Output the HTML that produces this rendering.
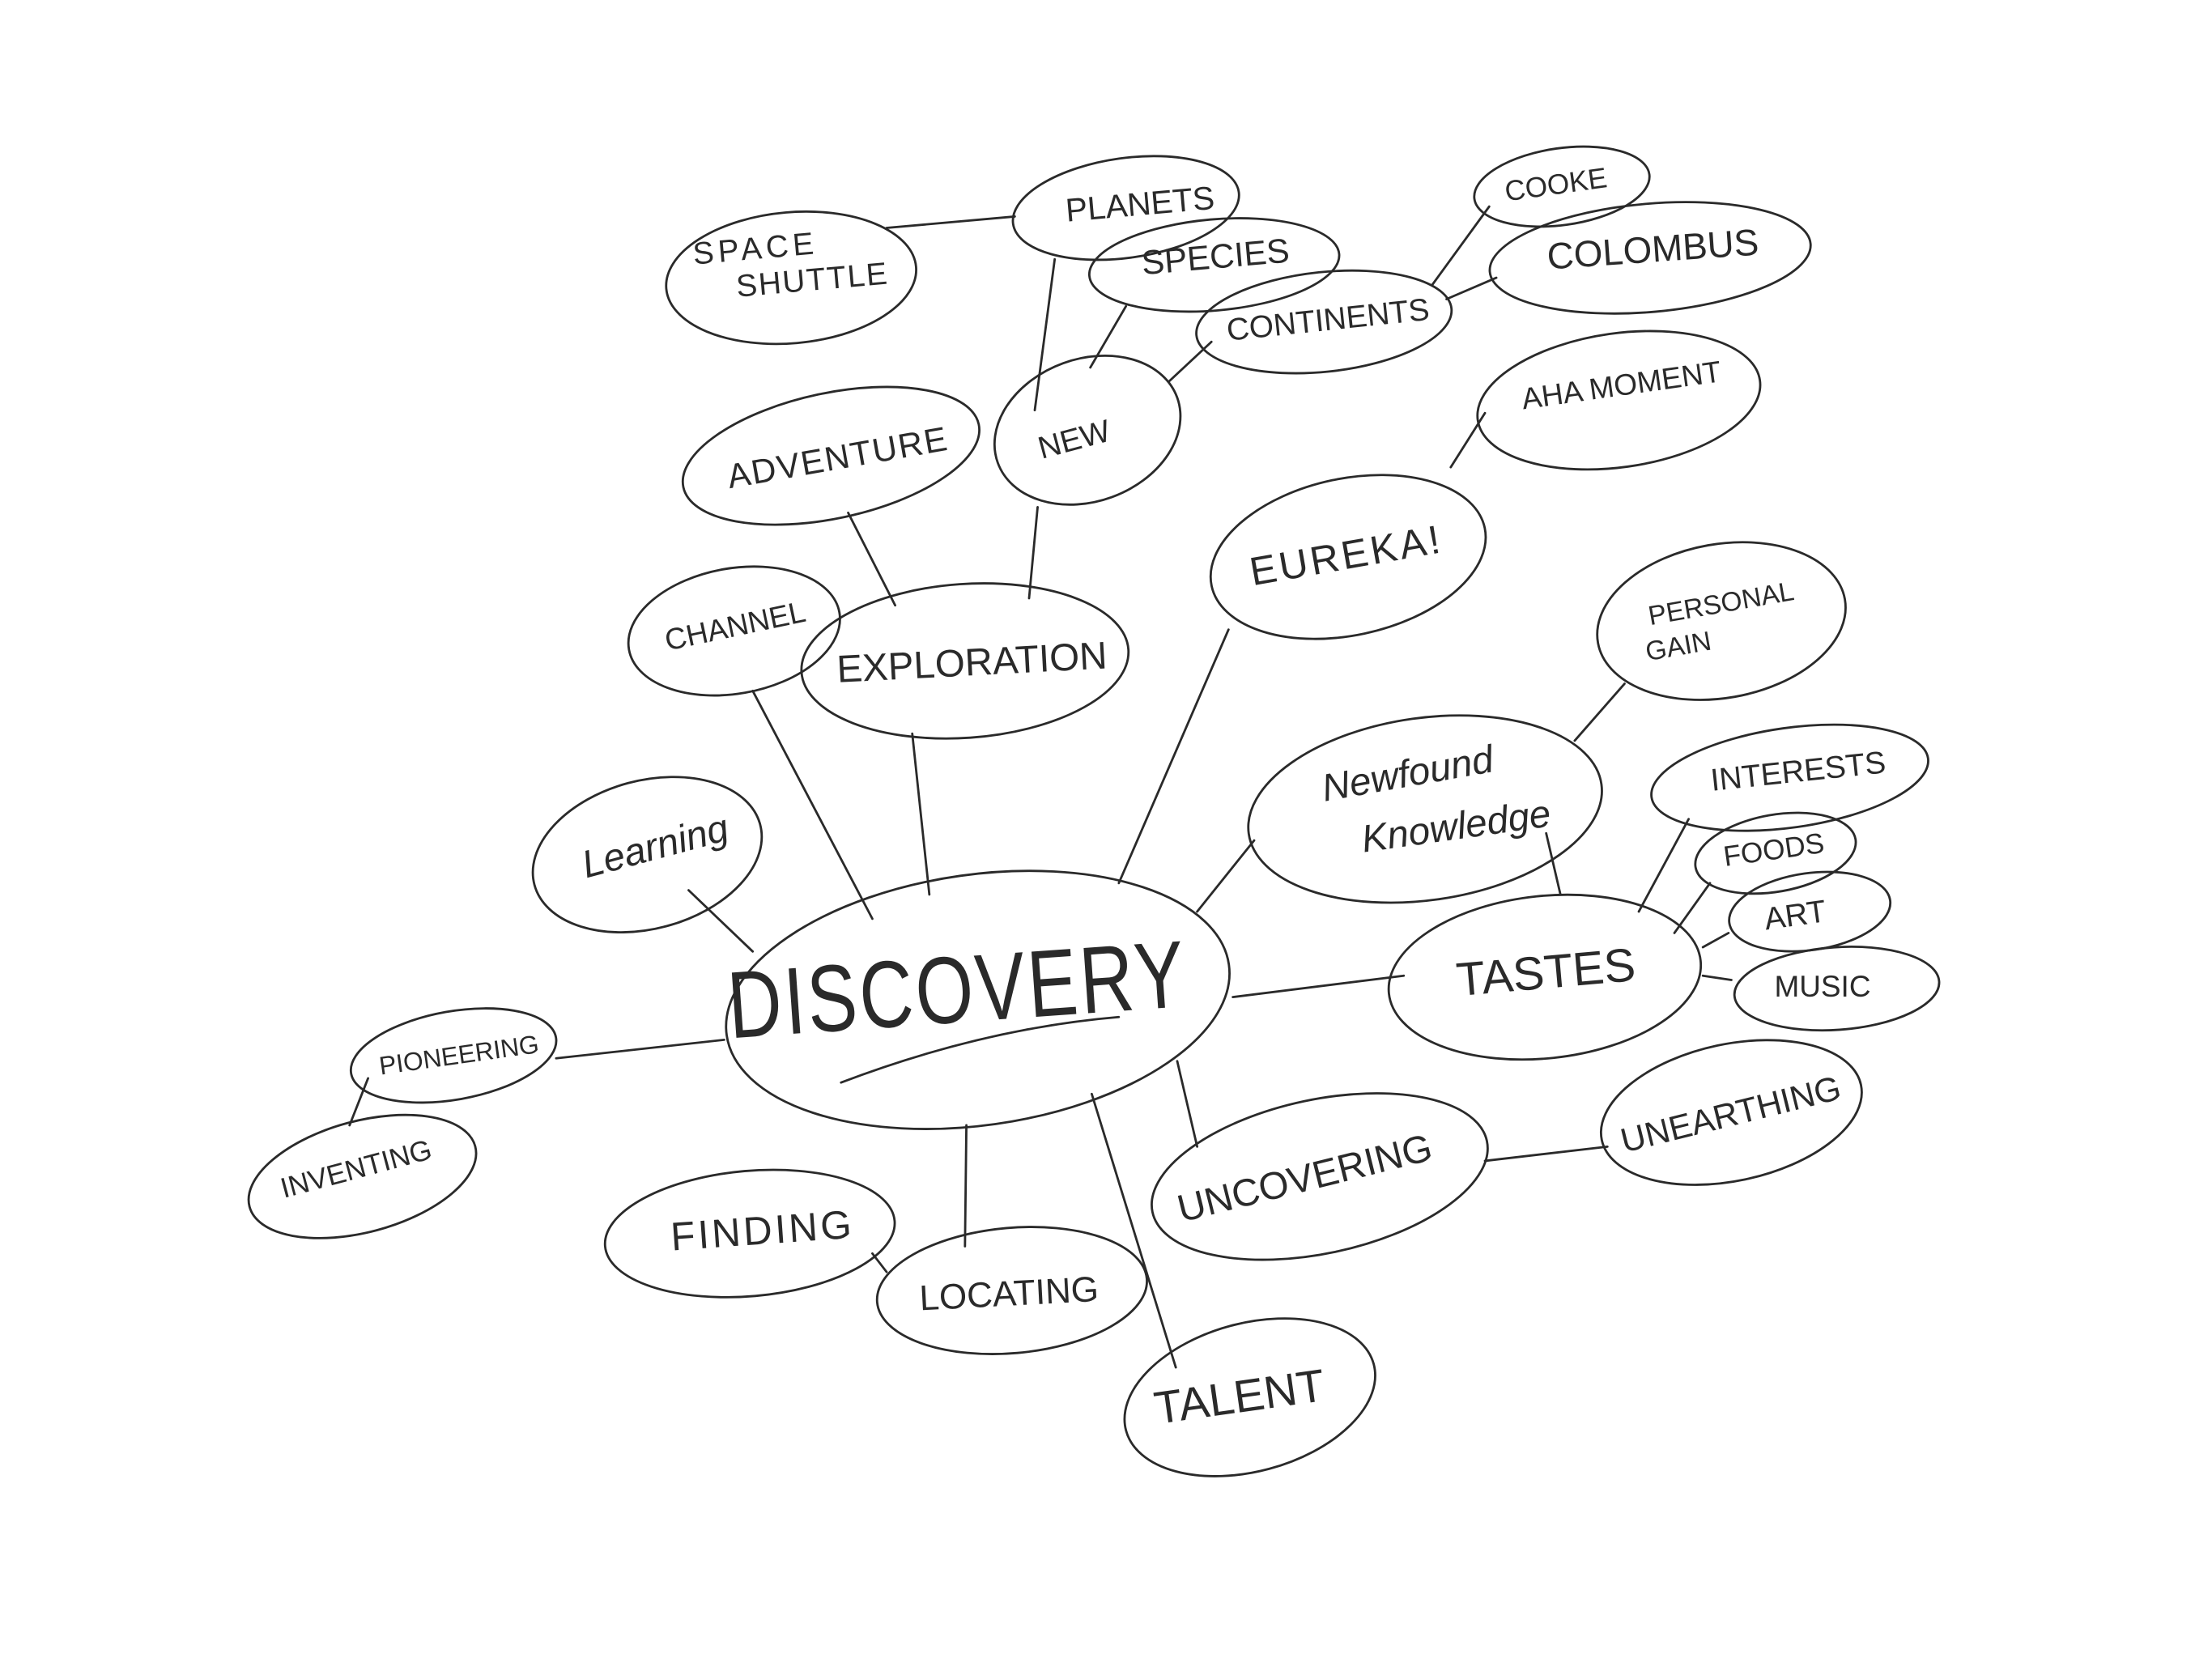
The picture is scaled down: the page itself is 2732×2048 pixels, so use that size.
<!DOCTYPE html>
<html><head><meta charset="utf-8"><style>
html,body{margin:0;padding:0;background:#fff;}
svg{display:block}
text{font-family:"Liberation Sans",sans-serif;fill:#2a2a2a;text-anchor:middle;dominant-baseline:middle;font-weight:normal}
</style></head><body>
<svg width="2732" height="2048" viewBox="0 0 1552 1164" xmlns="http://www.w3.org/2000/svg">
<rect width="1552" height="1164" fill="#fff"/>
<g stroke="#2a2a2a" stroke-width="1.6" fill="none" stroke-linecap="round">
<!-- connectors -->
<line x1="622" y1="160" x2="712" y2="152"/>
<line x1="740" y1="182" x2="726" y2="288"/>
<line x1="728" y1="356" x2="722" y2="420"/>
<line x1="765" y1="258" x2="790" y2="215"/>
<line x1="820" y1="268" x2="850" y2="240"/>
<line x1="1005" y1="200" x2="1045" y2="145"/>
<line x1="1015" y1="210" x2="1050" y2="195"/>
<line x1="595" y1="360" x2="628" y2="425"/>
<line x1="1018" y1="328" x2="1042" y2="290"/>
<line x1="862" y1="442" x2="785" y2="620"/>
<line x1="528" y1="485" x2="612" y2="645"/>
<line x1="640" y1="515" x2="652" y2="628"/>
<line x1="1140" y1="480" x2="1105" y2="520"/>
<line x1="880" y1="590" x2="840" y2="640"/>
<line x1="1085" y1="585" x2="1095" y2="628"/>
<line x1="483" y1="625" x2="528" y2="668"/>
<line x1="1185" y1="575" x2="1150" y2="640"/>
<line x1="1200" y1="620" x2="1175" y2="655"/>
<line x1="1213" y1="655" x2="1195" y2="665"/>
<line x1="1215" y1="688" x2="1195" y2="685"/>
<line x1="865" y1="700" x2="985" y2="685"/>
<line x1="390" y1="743" x2="508" y2="730"/>
<line x1="258" y1="757" x2="245" y2="790"/>
<line x1="826" y1="745" x2="840" y2="805"/>
<line x1="1042" y1="815" x2="1128" y2="805"/>
<line x1="766" y1="768" x2="825" y2="960"/>
<line x1="678" y1="790" x2="677" y2="875"/>
<line x1="612" y1="880" x2="622" y2="893"/>
<!-- nodes -->
<ellipse cx="555" cy="195" rx="88" ry="46" transform="rotate(-5 555 195)"/>
<ellipse cx="790" cy="146" rx="80" ry="35" transform="rotate(-8 790 146)"/>
<ellipse cx="852" cy="186" rx="88" ry="32" transform="rotate(-5 852 186)"/>
<ellipse cx="1096" cy="131" rx="62" ry="27" transform="rotate(-8 1096 131)"/>
<ellipse cx="1158" cy="181" rx="113" ry="38" transform="rotate(-5 1158 181)"/>
<ellipse cx="929" cy="226" rx="90" ry="35" transform="rotate(-6 929 226)"/>
<ellipse cx="763" cy="302" rx="67" ry="50" transform="rotate(-20 763 302)"/>
<ellipse cx="583" cy="320" rx="106" ry="44" transform="rotate(-12 583 320)"/>
<ellipse cx="1136" cy="281" rx="100" ry="47" transform="rotate(-8 1136 281)"/>
<ellipse cx="946" cy="391" rx="98" ry="55" transform="rotate(-12 946 391)"/>
<ellipse cx="515" cy="443" rx="75" ry="44" transform="rotate(-10 515 443)"/>
<ellipse cx="677" cy="464" rx="115" ry="54" transform="rotate(-4 677 464)"/>
<ellipse cx="1208" cy="436" rx="88" ry="54" transform="rotate(-10 1208 436)"/>
<ellipse cx="1000" cy="568" rx="125" ry="64" transform="rotate(-8 1000 568)"/>
<ellipse cx="454" cy="600" rx="82" ry="52" transform="rotate(-15 454 600)"/>
<ellipse cx="1256" cy="546" rx="98" ry="35" transform="rotate(-8 1256 546)"/>
<ellipse cx="1246" cy="599" rx="57" ry="27" transform="rotate(-10 1246 599)"/>
<ellipse cx="1270" cy="640" rx="57" ry="27" transform="rotate(-8 1270 640)"/>
<ellipse cx="1289" cy="694" rx="72" ry="29" transform="rotate(-4 1289 694)"/>
<ellipse cx="1084" cy="686" rx="110" ry="57" transform="rotate(-6 1084 686)"/>
<ellipse cx="686" cy="702" rx="178" ry="88" transform="rotate(-8 686 702)"/>
<ellipse cx="318" cy="741" rx="73" ry="31" transform="rotate(-10 318 741)"/>
<ellipse cx="254" cy="826" rx="82" ry="39" transform="rotate(-15 254 826)"/>
<ellipse cx="1215" cy="781" rx="93" ry="48" transform="rotate(-12 1215 781)"/>
<ellipse cx="926" cy="826" rx="120" ry="54" transform="rotate(-12 926 826)"/>
<ellipse cx="526" cy="866" rx="102" ry="44" transform="rotate(-5 526 866)"/>
<ellipse cx="710" cy="906" rx="95" ry="44" transform="rotate(-5 710 906)"/>
<ellipse cx="877" cy="981" rx="90" ry="52" transform="rotate(-15 877 981)"/>
<path d="M590 760 Q690 722 785 714"/>
</g>
<g>
<text x="530" y="176" font-size="22" transform="rotate(-5 530 176)" letter-spacing="3">SPACE</text>
<text x="570" y="198" font-size="22" transform="rotate(-5 570 198)" letter-spacing="1">SHUTTLE</text>
<text x="800" y="145" font-size="23" transform="rotate(-5 800 145)">PLANETS</text>
<text x="853" y="182" font-size="24" transform="rotate(-5 853 182)">SPECIES</text>
<text x="1092" y="131" font-size="20" transform="rotate(-8 1092 131)">COOKE</text>
<text x="1160" y="177" font-size="26" transform="rotate(-4 1160 177)">COLOMBUS</text>
<text x="932" y="226" font-size="22" transform="rotate(-6 932 226)">CONTINENTS</text>
<text x="754" y="310" font-size="22" transform="rotate(-15 754 310)">NEW</text>
<text x="588" y="323" font-size="24" transform="rotate(-10 588 323)" letter-spacing="1">ADVENTURE</text>
<text x="1138" y="272" font-size="21" transform="rotate(-8 1138 272)">AHA MOMENT</text>
<text x="945" y="392" font-size="28" transform="rotate(-10 945 392)" letter-spacing="2">EUREKA!</text>
<text x="516" y="441" font-size="21" transform="rotate(-12 516 441)">CHANNEL</text>
<text x="682" y="467" font-size="27" transform="rotate(-3 682 467)">EXPLORATION</text>
<text x="1208" y="425" font-size="19" transform="rotate(-10 1208 425)">PERSONAL</text>
<text x="1178" y="455" font-size="19" transform="rotate(-10 1178 455)">GAIN</text>
<text x="988" y="545" font-size="27" transform="rotate(-10 988 545)" font-style="italic">Newfound</text>
<text x="1022" y="582" font-size="27" transform="rotate(-8 1022 582)" font-style="italic">Knowledge</text>
<text x="460" y="596" font-size="27" transform="rotate(-15 460 596)" font-style="italic">Learning</text>
<text x="1262" y="543" font-size="22" transform="rotate(-6 1262 543)">INTERESTS</text>
<text x="1245" y="598" font-size="20" transform="rotate(-8 1245 598)">FOODS</text>
<text x="1260" y="644" font-size="22" transform="rotate(-8 1260 644)">ART</text>
<text x="1279" y="694" font-size="21">MUSIC</text>
<text x="1085" y="685" font-size="33" transform="rotate(-5 1085 685)">TASTES</text>
<g transform="translate(672 700) rotate(-4) scale(0.9 1.15)">
<text x="0" y="0" font-size="58" letter-spacing="2">DISCOVERY</text>
</g>
<text x="322" y="742" font-size="18" transform="rotate(-8 322 742)">PIONEERING</text>
<text x="250" y="822" font-size="20" transform="rotate(-15 250 822)">INVENTING</text>
<text x="1215" y="784" font-size="24" transform="rotate(-14 1215 784)">UNEARTHING</text>
<text x="916" y="829" font-size="27" transform="rotate(-14 916 829)">UNCOVERING</text>
<text x="535" y="866" font-size="28" transform="rotate(-4 535 866)" letter-spacing="2">FINDING</text>
<text x="708" y="910" font-size="25" transform="rotate(-3 708 910)">LOCATING</text>
<text x="870" y="983" font-size="32" transform="rotate(-8 870 983)">TALENT</text>
</g>
</svg>
</body></html>
